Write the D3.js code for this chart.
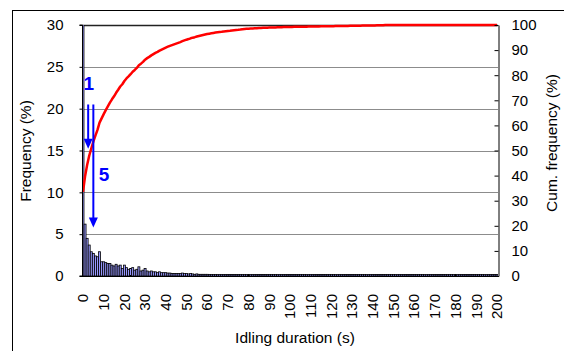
<!DOCTYPE html>
<html>
<head>
<meta charset="utf-8">
<script src="https://cdn.jsdelivr.net/npm/d3@7/dist/d3.min.js"></script>
<style>
  html, body { margin: 0; padding: 0; background: #fff; }
  svg { display: block; font-family: "Liberation Sans", Arial, sans-serif; }
</style>
</head>
<body>
<svg id="chart" width="564" height="351"></svg>
<script>
// Idling duration in seconds (one category per second)
const durations = d3.range(0, 201);

// Share of idling events per 1-s bin (%)
const frequency = [
  33.5, 6.2, 4.5, 3.7, 2.9, 2.7, 2.4, 2.3, 2.9, 1.7, 1.7, 1.6, 1.5, 1.5, 1.3,
  1.2, 1.4, 1.2, 1.3, 0.9, 1.3, 1.0, 0.8, 0.9, 1.0, 0.7, 0.8, 1.1,
  0.6, 0.7, 0.9, 0.6, 0.5, 0.6, 0.5, 0.5, 0.4, 0.5, 0.4, 0.4, 0.4, 0.35, 0.35, 0.3, 0.3, 0.3, 0.3, 0.3,
  0.35, 0.3, 0.3, 0.25, 0.3, 0.25, 0.2, 0.25, 0.2, 0.2, 0.2, 0.2, 0.2, 0.15, 0.15, 0.15, 0.15,
  0.12, 0.1, 0.08, 0.12, 0.1, 0.1, 0.09, 0.11, 0.1, 0.1, 0.08, 0.1, 0.12, 0.1, 0.08,
  0.05, 0.06, 0.04, 0.05, 0.05, 0.06, 0.04, 0.05,
  0.03, 0.02, 0.03, 0.02, 0.03, 0.02, 0.03, 0.02, 0.03, 0.03, 0.02, 0.03, 0.015,
  0.02, 0.01, 0.02, 0.01, 0.02, 0.01, 0.02, 0.01, 0.02, 0.01, 0.02, 0.01, 0.02, 0.01, 0.02,
  0.01, 0.02, 0.01, 0.02, 0.01, 0.02, 0.01, 0.02, 0.01, 0.02, 0.01, 0.02, 0.01, 0.02, 0.01,
  0.02, 0.01, 0.02, 0.01, 0.02, 0.01, 0.02, 0.01, 0.02, 0.01, 0.02, 0.01, 0.02, 0.01, 0.01,
  0.105,
  0, 0, 0, 0, 0, 0, 0, 0, 0, 0, 0, 0, 0, 0, 0, 0, 0, 0,
  0, 0, 0, 0, 0, 0, 0, 0, 0, 0, 0, 0, 0, 0, 0, 0, 0, 0,
  0, 0, 0, 0, 0, 0, 0, 0, 0, 0, 0, 0, 0, 0, 0, 0, 0, 0
];

// Axis ticks
const xTickLabels = [0, 10, 20, 30, 40, 50, 60, 70, 80, 90, 100, 110, 120, 130, 140, 150, 160, 170, 180, 190, 200];
const leftTicks = [0, 5, 10, 15, 20, 25, 30];
const rightTicks = [0, 10, 20, 30, 40, 50, 60, 70, 80, 90, 100];

// Blue arrows marking the 1-s and 5-s idling thresholds
const markers = [
  { label: "1", t: 2.5, from: 20.5, to: 15.2, labelT: 2.8, labelY: 22.2 },
  { label: "5", t: 5, from: 20.5, to: 5.8, labelT: 10.2, labelY: 11.4 }
];

// Cumulative frequency (%)
let run = 0;
const cumulative = frequency.map(v => Math.min(100, (run += v)));

const svg = d3.select("#chart");
const plot = { left: 82, right: 498, top: 25, bottom: 276 };

const x = d3.scaleBand().domain(durations).range([plot.left, plot.right]).paddingInner(0.04);
const xc = t => x(t) + x.bandwidth() / 2;
const xLin = d3.scaleLinear().domain([0, 200]).range([xc(0), xc(200)]);
const yL = d3.scaleLinear().domain([0, 30]).range([plot.bottom, plot.top]);
const yR = d3.scaleLinear().domain([0, 100]).range([plot.bottom, plot.top]);

// Outer frame (extends past the visible area on the right and bottom)
svg.append("rect")
  .attr("x", 12.5).attr("y", 10.5).attr("width", 700).attr("height", 500)
  .attr("fill", "none").attr("stroke", "#000").attr("stroke-width", 1);

// Horizontal gridlines
svg.append("g").selectAll("line")
  .data(leftTicks.filter(d => d > 0 && d < 30))
  .join("line")
  .attr("x1", plot.left).attr("x2", plot.right)
  .attr("y1", d => Math.round(yL(d)) + 0.5).attr("y2", d => Math.round(yL(d)) + 0.5)
  .attr("stroke", "#8c8c8c").attr("stroke-width", 1);

// Top border of the plot area
svg.append("line")
  .attr("x1", plot.left).attr("x2", plot.right)
  .attr("y1", plot.top + 0.5).attr("y2", plot.top + 0.5)
  .attr("stroke", "#222").attr("stroke-width", 1.5);

// Frequency bars (outlined, so even empty bins leave a short mark on the baseline)
svg.append("defs").append("clipPath").attr("id", "plotClip")
  .append("rect").attr("x", plot.left).attr("y", plot.top)
  .attr("width", plot.right - plot.left).attr("height", plot.bottom - plot.top);

const barTop = d => Math.min(yL(frequency[d]), plot.bottom - 1.6);
svg.append("g").attr("clip-path", "url(#plotClip)")
  .selectAll("rect")
  .data(durations)
  .join("rect")
  .attr("x", d => x(d))
  .attr("width", x.bandwidth())
  .attr("y", barTop)
  .attr("height", d => plot.bottom - barTop(d))
  .attr("fill", "#9999ff")
  .attr("stroke", "#000")
  .attr("stroke-width", 0.8);

// Cumulative frequency line
svg.append("path")
  .datum(durations)
  .attr("fill", "none")
  .attr("stroke", "#ff0000")
  .attr("stroke-width", 2.5)
  .attr("stroke-linejoin", "round")
  .attr("d", d3.line().x(d => xc(d)).y(d => yR(cumulative[d])));

// Left axis
const gL = svg.append("g").attr("transform", `translate(${plot.left + 0.5},0)`)
  .call(d3.axisLeft(yL).tickValues(leftTicks).tickSize(3).tickPadding(16).tickFormat(d3.format("d")));
gL.select(".domain").attr("stroke", "#000").attr("d", `M-3,${plot.top}H0V${plot.bottom}H-3`);
gL.selectAll("text").attr("font-size", 15).attr("fill", "#000")
  .attr("font-family", "'Liberation Sans', Arial, sans-serif");

// Right axis
const gR = svg.append("g").attr("transform", `translate(${plot.right + 0.5},0)`)
  .call(d3.axisRight(yR).tickValues(rightTicks).tickSizeInner(-4).tickSizeOuter(0).tickPadding(13));
gR.select(".domain").attr("stroke", "#000");
gR.selectAll("text").attr("font-size", 15).attr("fill", "#000")
  .attr("font-family", "'Liberation Sans', Arial, sans-serif");

// Bottom axis line and rotated duration labels
svg.append("line")
  .attr("x1", plot.left).attr("x2", plot.right + 1)
  .attr("y1", plot.bottom + 0.5).attr("y2", plot.bottom + 0.5)
  .attr("stroke", "#000");

svg.append("g").selectAll("text")
  .data(xTickLabels)
  .join("text")
  .attr("transform", d => `translate(${xc(d)},${plot.bottom + 18}) rotate(-90)`)
  .attr("text-anchor", "end")
  .attr("dy", "0.35em")
  .attr("font-size", 15)
  .text(d => d);

// Axis titles
svg.append("text")
  .attr("transform", `translate(26,151) rotate(-90)`)
  .attr("text-anchor", "middle").attr("dy", "0.35em")
  .attr("font-size", 15.5)
  .text("Frequency (%)");

svg.append("text")
  .attr("transform", `translate(552,143) rotate(-90)`)
  .attr("text-anchor", "middle").attr("dy", "0.35em")
  .attr("font-size", 15.5)
  .text("Cum. frequency (%)");

svg.append("text")
  .attr("x", 295).attr("y", 343)
  .attr("text-anchor", "middle")
  .attr("font-size", 15.5)
  .text("Idling duration (s)");

// Threshold arrows
const gM = svg.append("g");
markers.forEach(m => {
  const px = xLin(m.t);
  const y0 = yL(m.from), y1 = yL(m.to);
  gM.append("line")
    .attr("x1", px).attr("x2", px)
    .attr("y1", y0).attr("y2", y1 - 9)
    .attr("stroke", "#0000ff").attr("stroke-width", 2);
  gM.append("path")
    .attr("d", `M${px - 4.5},${y1 - 10}L${px + 4.5},${y1 - 10}L${px},${y1}Z`)
    .attr("fill", "#0000ff");
  gM.append("text")
    .attr("x", xLin(m.labelT)).attr("y", yL(m.labelY))
    .attr("text-anchor", "middle")
    .attr("font-size", 19).attr("font-weight", "bold")
    .attr("fill", "#0000ff")
    .text(m.label);
});
</script>
</body>
</html>
